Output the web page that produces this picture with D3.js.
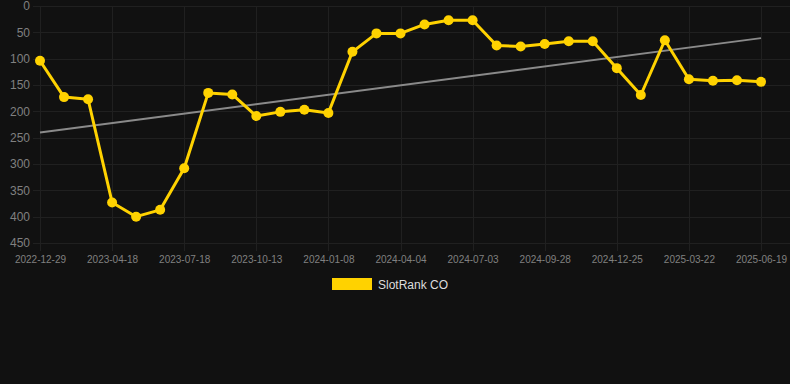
<!DOCTYPE html>
<html>
<head>
<meta charset="utf-8">
<script src="https://cdn.jsdelivr.net/npm/d3@7"></script>
<style>
  html, body { margin: 0; padding: 0; background: #111111; }
  svg { display: block; }
</style>
</head>
<body>
<svg id="chart" width="790" height="384"></svg>
<script>
const dates = [
  "2022-12-29","2023-02-04","2023-03-13","2023-04-18","2023-05-18","2023-06-17",
  "2023-07-18","2023-08-16","2023-09-14","2023-10-13","2023-11-11","2023-12-10",
  "2024-01-08","2024-02-06","2024-03-06","2024-04-04","2024-05-04","2024-06-03",
  "2024-07-03","2024-08-01","2024-08-30","2024-09-28","2024-10-27","2024-11-25",
  "2024-12-25","2025-01-23","2025-02-21","2025-03-22","2025-04-21","2025-05-20",
  "2025-06-19"
];
const rankValues = [104,173,177,373,400,387,308,165,168,209,201,197,203,87,52,52,35,27,27,75,77,72,67,67,118,169,65,139,142,141,144];
const trendValues = [240, 61];
const yTicks = [0,50,100,150,200,250,300,350,400,450];
const xTickLabels = dates.filter((d, i) => i % 3 === 0);
const seriesName = "SlotRank CO";

(function () {
const svg = d3.select("#chart");
const plotLeft = 40, plotRight = 761, plotTop = 6, plotBottom = 243;

const x = d3.scalePoint().domain(dates).range([plotLeft, plotRight]);
const y = d3.scaleLinear().domain([0, 450]).range([plotTop, plotBottom]);

const gridColor = "#202020";
const textColor = "#808080";

// horizontal grid
svg.append("g").selectAll("line").data(yTicks).join("line")
  .attr("x1", 33).attr("x2", 790)
  .attr("y1", d => Math.round(y(d)) + 0.5).attr("y2", d => Math.round(y(d)) + 0.5)
  .attr("stroke", gridColor).attr("stroke-width", 1);

// vertical grid
svg.append("g").selectAll("line").data(xTickLabels).join("line")
  .attr("x1", d => Math.round(x(d)) + 0.5).attr("x2", d => Math.round(x(d)) + 0.5)
  .attr("y1", plotTop).attr("y2", 251)
  .attr("stroke", gridColor).attr("stroke-width", 1);

// y axis labels
const yAxis = d3.axisLeft(y).tickValues(yTicks).tickSize(0).tickPadding(0);
const gy = svg.append("g").attr("transform", "translate(30,0)").call(yAxis);
gy.select(".domain").remove();
gy.selectAll("text").attr("fill", textColor).attr("font-size", 12)
  .attr("font-family", "Liberation Sans, Arial, sans-serif");

// x axis labels
const xAxis = d3.axisBottom(x).tickValues(xTickLabels).tickSize(0).tickPadding(0);
const gx = svg.append("g").attr("transform", "translate(0,256)").call(xAxis);
gx.select(".domain").remove();
gx.selectAll("text").attr("fill", textColor).attr("font-size", 10)
  .attr("font-family", "Liberation Sans, Arial, sans-serif");

// trend line
svg.append("line")
  .attr("x1", x(dates[0])).attr("x2", x(dates[dates.length - 1]))
  .attr("y1", y(trendValues[0])).attr("y2", y(trendValues[1]))
  .attr("stroke", "#8a8a8a").attr("stroke-width", 2);

// series line
const line = d3.line().x((d, i) => x(dates[i])).y(d => y(d));
svg.append("path").datum(rankValues)
  .attr("d", line).attr("fill", "none")
  .attr("stroke", "#ffd200").attr("stroke-width", 3)
  .attr("stroke-linejoin", "round");

svg.append("g").selectAll("circle").data(rankValues).join("circle")
  .attr("cx", (d, i) => x(dates[i])).attr("cy", d => y(d))
  .attr("r", 5).attr("fill", "#ffd200");

// legend
svg.append("rect").attr("x", 332).attr("y", 278).attr("width", 40).attr("height", 12)
  .attr("fill", "#ffd200");
svg.append("text").attr("x", 378).attr("y", 289).text(seriesName)
  .attr("fill", "#dddddd").attr("font-size", 12)
  .attr("font-family", "Liberation Sans, Arial, sans-serif");
})();
</script>
</body>
</html>
